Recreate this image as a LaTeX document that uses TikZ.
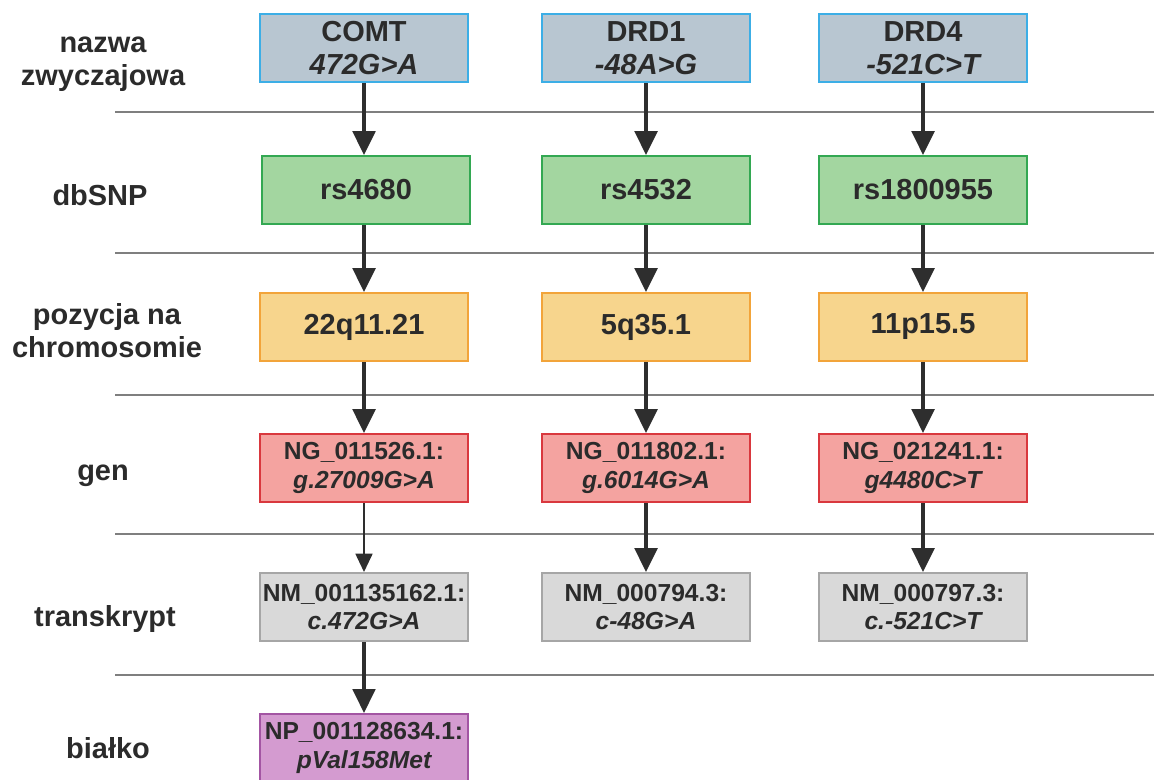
\documentclass[tikz,border=0pt]{standalone}
\usepackage{fontspec}
\setmainfont{Liberation Sans}
\usetikzlibrary{arrows.meta}
\definecolor{txt}{HTML}{2B2B2B}
\definecolor{sepgray}{HTML}{7F7F7F}
\definecolor{arrgray}{HTML}{2E2E2E}
\definecolor{bluefill}{HTML}{B8C6D1}
\definecolor{blueline}{HTML}{3CAEE6}
\definecolor{greenfill}{HTML}{A3D6A0}
\definecolor{greenline}{HTML}{33A852}
\definecolor{orangefill}{HTML}{F7D58D}
\definecolor{orangeline}{HTML}{F2A43A}
\definecolor{redfill}{HTML}{F4A3A0}
\definecolor{redline}{HTML}{D9383E}
\definecolor{grayfill}{HTML}{D9D9D9}
\definecolor{grayline}{HTML}{A6A6A6}
\definecolor{purplefill}{HTML}{D49BD0}
\definecolor{purpleline}{HTML}{A355A3}
\begin{document}
\begin{tikzpicture}[x=0.025cm,y=-0.025cm,
  box/.style={draw,line width=1.4pt,minimum width=5.22cm,minimum height=1.7cm,inner sep=0pt,align=center,text=txt},
  big/.style={font=\fontsize{20.6}{23.5}\selectfont\bfseries},
  small/.style={font=\fontsize{17.5}{20}\selectfont\bfseries},
  namebox/.style={box,big,fill=bluefill,draw=blueline},
  snpbox/.style={box,big,fill=greenfill,draw=greenline},
  posbox/.style={box,big,fill=orangefill,draw=orangeline},
  genbox/.style={box,small,fill=redfill,draw=redline},
  trbox/.style={box,small,fill=grayfill,draw=grayline},
  protbox/.style={box,small,fill=purplefill,draw=purpleline},
  lab/.style={align=center,text=txt,font=\fontsize{20.6}{23.5}\selectfont\bfseries},
  sep/.style={draw=sepgray,line width=1.8pt},
  arr/.style={draw=arrgray,line width=2.8pt,-{Triangle[width=16pt,length=17pt]}},
  thinarr/.style={draw=arrgray,line width=1.4pt,-{Triangle[width=12pt,length=13pt]}}]
\useasboundingbox (0,0) rectangle (1154,779);
\clip (0,0) rectangle (1154,779);

\node[lab] (lnazwa) at (103,64) {nazwa\\zwyczajowa};
\node[lab] (ldb) at (100,195) {dbSNP};
\node[lab] (lpoz) at (107,331) {pozycja na\\chromosomie};
\node[lab] (lgen) at (103,476) {gen};
\node[lab] (ltr) at (105,619) {transkrypt};
\node[lab] (lbi) at (108,748) {białko};

\draw[sep] (115,112) -- (1154,112);
\draw[sep] (115,253) -- (1154,253);
\draw[sep] (115,395) -- (1154,395);
\draw[sep] (115,534) -- (1154,534);
\draw[sep] (115,675) -- (1154,675);

\node[namebox] (nz1) at (364,48) {COMT\\\itshape 472G>A};
\node[namebox] (nz2) at (646,48) {DRD1\\\itshape -48A>G};
\node[namebox] (nz3) at (923,48) {DRD4\\\itshape -521C>T};

\node[snpbox] (db1) at (366,190) {rs4680};
\node[snpbox] (db2) at (646,190) {rs4532};
\node[snpbox] (db3) at (923,190) {rs1800955};

\node[posbox] (poz1) at (364,327) {22q11.21};
\node[posbox] (poz2) at (646,327) {5q35.1};
\node[posbox] (poz3) at (923,327) {11p15.5};

\node[genbox] (gen1) at (364,468) {NG\_011526.1:\\\itshape g.27009G>A};
\node[genbox] (gen2) at (646,468) {NG\_011802.1:\\\itshape g.6014G>A};
\node[genbox] (gen3) at (923,468) {NG\_021241.1:\\\itshape g4480C>T};

\node[trbox] (tr1) at (364,607) {NM\_001135162.1:\\\itshape c.472G>A};
\node[trbox] (tr2) at (646,607) {NM\_000794.3:\\\itshape c-48G>A};
\node[trbox] (tr3) at (923,607) {NM\_000797.3:\\\itshape c.-521C>T};

\node[protbox] (bi1) at (364,748) {NP\_001128634.1:\\\itshape pVal158Met};

\draw[arr] (nz1) -- (db1.north -| nz1);
\draw[arr] (nz2) -- (db2);
\draw[arr] (nz3) -- (db3);
\draw[arr] (db1.south -| nz1) -- (poz1);
\draw[arr] (db2) -- (poz2);
\draw[arr] (db3) -- (poz3);
\draw[arr] (poz1) -- (gen1);
\draw[arr] (poz2) -- (gen2);
\draw[arr] (poz3) -- (gen3);
\draw[thinarr] (gen1) -- (tr1);
\draw[arr] (gen2) -- (tr2);
\draw[arr] (gen3) -- (tr3);
\draw[arr,line width=2.4pt] (tr1) -- (bi1);
\end{tikzpicture}
\end{document}
